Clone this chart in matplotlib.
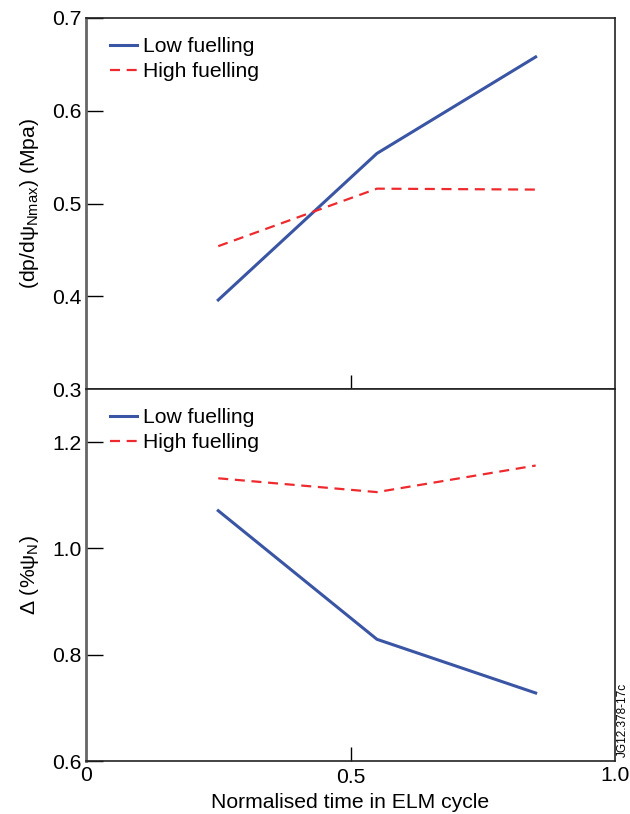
import matplotlib
matplotlib.use("Agg")
import matplotlib.pyplot as plt

# normalised time in ELM cycle
t = [0.25, 0.55, 0.85]

# top panel: max pressure gradient (MPa)
grad_low = [0.396, 0.554, 0.658]
grad_high = [0.454, 0.516, 0.515]

# bottom panel: pedestal width (% psi_N)
width_low = [1.071, 0.829, 0.728]
width_high = [1.132, 1.106, 1.156]

xticks = [0, 0.5, 1.0]
xticklabels = ["0", "0.5", "1.0"]

plt.rcParams['font.family'] = ['Liberation Sans', 'DejaVu Sans']
plt.rcParams['mathtext.fontset'] = 'custom'
plt.rcParams['mathtext.rm'] = 'Liberation Sans'
plt.rcParams['mathtext.it'] = 'Liberation Sans'

blue = "#3a55a4"
red = "#ee2a2e"
fs = 15.2

fig = plt.figure(figsize=(6.3, 8.14), dpi=100)
ax1 = fig.add_axes([0.1365, 0.5221, 0.8397, 0.4558])
ax2 = fig.add_axes([0.1365, 0.0651, 0.8397, 0.4570])

def style(ax):
    ax.set_xlim(0, 1.0)
    ax.set_xticks([0.5])
    ax.tick_params(direction="in", length=12, width=1, labelsize=fs, pad=3)
    ax.tick_params(axis="x", length=10, pad=5)
    for s in ax.spines.values():
        s.set_linewidth(1.2)
        s.set_color("#222222")
    ax.spines["left"].set_color("#666666")
    ax.spines["left"].set_linewidth(2)
    ax.legend(loc="upper left", frameon=False, fontsize=fs, handlelength=1.25,
              handletextpad=0.3, labelspacing=0.3, borderaxespad=0.5,
              bbox_to_anchor=(0.01, 1.0))

ax1.plot(t, grad_low, color=blue, lw=2.2, label="Low fuelling")
ax1.plot(t, grad_high, color=red, lw=1.6, ls=(0, (4.5, 3)), label="High fuelling")
ax1.set_ylim(0.3, 0.7)
ax1.set_yticks([0.3, 0.4, 0.5, 0.6, 0.7])
ax1.set_yticklabels(["0.3", "0.4", "0.5", "0.6", "0.7"])
ax1.set_ylabel(r"(dp/d$\psi_{\rm Nmax}$) (Mpa)", fontsize=fs, labelpad=8)
style(ax1)
ax1.set_xticklabels([])

ax2.plot(t, width_low, color=blue, lw=2.2, label="Low fuelling")
ax2.plot(t, width_high, color=red, lw=1.6, ls=(0, (4.5, 3)), label="High fuelling")
ax2.set_ylim(0.6, 1.3)
ax2.set_yticks([0.6, 0.8, 1.0, 1.2])
ax2.set_yticklabels(["0.6", "0.8", "1.0", "1.2"])
ax2.set_ylabel(r"$\Delta$ (%$\psi_{\rm N}$)", fontsize=fs, labelpad=8)
style(ax2)
ax2.set_xticks([0.5])
ax2.set_xticklabels(["0.5"])
ax2.set_xlabel("Normalised time in ELM cycle", fontsize=fs, labelpad=4)
for x, lab in zip(xticks, xticklabels):
    if x != 0.5:
        ax2.text(x, -0.013, lab, transform=ax2.get_xaxis_transform(),
                 ha="center", va="top", fontsize=fs)

fig.text(0.988, 0.07, "JG12.378-17c", rotation=90, fontsize=8.5,
         ha="center", va="bottom")

fig.savefig("out.png", dpi=100)
